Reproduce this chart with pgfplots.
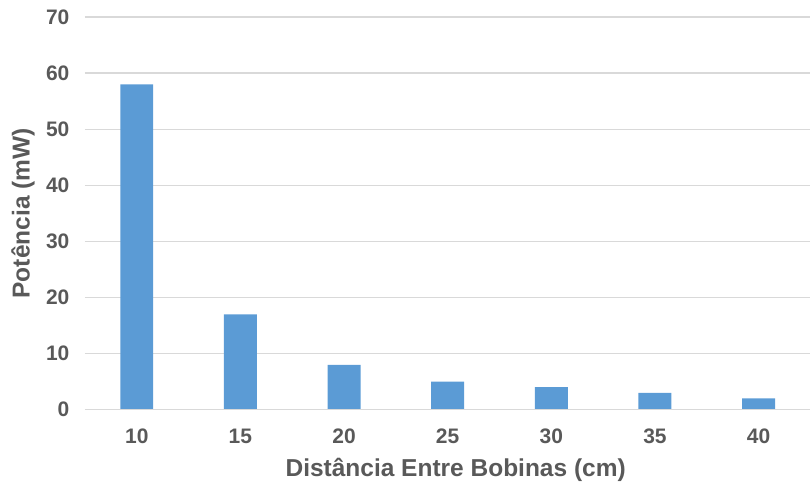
\documentclass[border=0pt]{standalone}
\usepackage{pgfplots}
\pgfplotsset{compat=1.18}
\usepackage{fontspec}
\setmainfont{Liberation Sans}
\definecolor{barblue}{HTML}{5B9BD5}
\definecolor{txtgray}{HTML}{595959}
\definecolor{gridgray}{HTML}{D9D9D9}
\begin{document}
\begin{tikzpicture}
\begin{axis}[
  scale only axis,
  width=726pt, height=393pt,
  xmin=-0.5, xmax=6.5, ymin=0, ymax=70,
  ytick={0,10,...,70},
  xtick={0,...,6},
  xticklabels={10,15,20,25,30,35,40},
  ymajorgrids, grid style={gridgray, line width=1.2pt},
  axis line style={draw=none},
  major tick length=0pt,
  tick style={draw=none},
  /pgf/number format/assume math mode=true,
  ticklabel style={font=\fontsize{21}{25}\selectfont\bfseries, text=txtgray},
  label style={font=\fontsize{24.5}{29}\selectfont\bfseries, text=txtgray},
  xlabel={Distância Entre Bobinas (cm)},
  ylabel={Potência (mW)},
  yticklabel style={anchor=east, xshift=-12pt},
  xticklabel style={anchor=center, yshift=-27pt, text depth=0pt},
  xlabel style={at={(rel axis cs:0.5,0)}, anchor=center, yshift=-60pt, xshift=8pt},
  ylabel style={at={([xshift=-62pt]rel axis cs:0,0.5)}, anchor=center, rotate=0},
  clip=false,
]
\addplot[ybar, bar width=33pt, fill=barblue, draw=none] coordinates {
 (0,58) (1,17) (2,8) (3,5) (4,4) (5,3) (6,2)};
\draw[gridgray, line width=1.2pt] (rel axis cs:0,0) -- (rel axis cs:1,0);
\path[draw=none] ([xshift=-85pt,yshift=-74pt]rel axis cs:0,0) rectangle ([yshift=17pt]rel axis cs:1,1);
\end{axis}
\end{tikzpicture}
\end{document}
